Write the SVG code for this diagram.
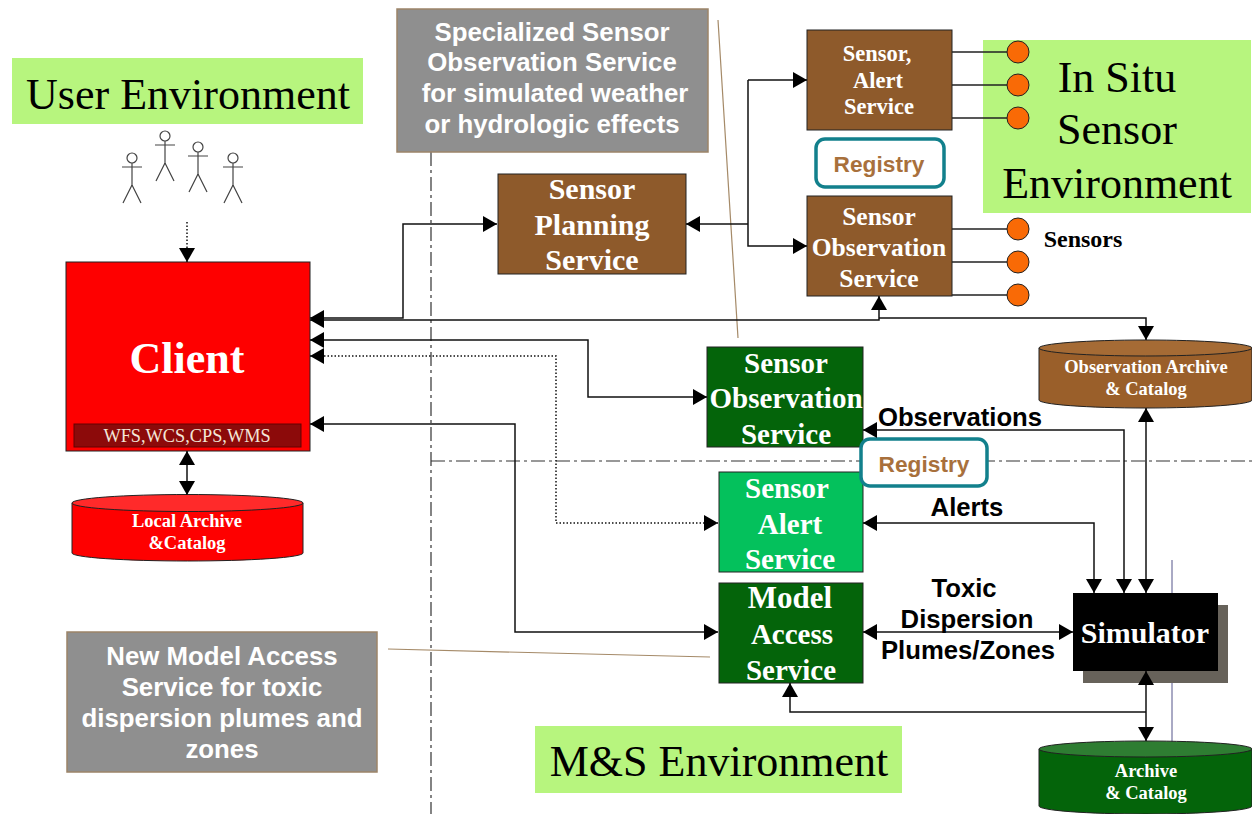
<svg xmlns="http://www.w3.org/2000/svg" width="1252" height="814" viewBox="0 0 1252 814">
<style>
.s{font-family:"Liberation Serif","Times New Roman",serif}
.a{font-family:"Liberation Sans",Arial,sans-serif}
.w{fill:#fff;font-weight:bold;text-anchor:middle}
.k{fill:#000;font-weight:bold;text-anchor:middle}
.env{fill:#000;font-size:44px;text-anchor:middle}
.g{fill:#b7f57e}
.l{fill:none;stroke:#111;stroke-width:1.5}
.box{stroke:#222;stroke-width:1}
.brown{fill:#8e5a2b}
.dg{fill:#04640a}
.reg{fill:#fff;stroke:#12808c;stroke-width:3.5}
.rt{fill:#a8703c;font-weight:bold;font-size:22.7px;text-anchor:middle}
.dot{fill:#f96a06;stroke:#222;stroke-width:1}
.wire{stroke:#222;stroke-width:1.3;fill:none}
.man{fill:none;stroke:#444;stroke-width:1.2}
.note{fill:#8f8f8f;stroke:#9c8468;stroke-width:1.5}
.f22{font-size:22.5px}.f25{font-size:25.5px}.f30{font-size:30px}.f29{font-size:29px}
.f18{font-size:18.5px}.n{font-size:25.8px}
.lab{font-size:25.7px}
</style>
<defs>
<marker id="ah" viewBox="0 0 14 16" refX="14" refY="8" markerWidth="14" markerHeight="16" markerUnits="userSpaceOnUse" orient="auto-start-reverse"><path d="M0 0L14 8L0 16Z" fill="#000"/></marker>
<g id="man"><circle cx="0" cy="0" r="5" class="man"/><path d="M0 5V27M-10 9H10M0 27L-9 45M0 27L9 45" class="man"/></g>
</defs>
<rect width="1252" height="814" fill="#fff"/>
<g id="backdrop">
<path d="M431 152V814" fill="none" stroke="#333" stroke-width="1.2" stroke-dasharray="14 4 3 4"/>
<path d="M431 461H1252" fill="none" stroke="#333" stroke-width="1.2" stroke-dasharray="14 4 3 4"/>
<path d="M718 20L738 338M388 649L710 657" fill="none" stroke="#a58a68" stroke-width="1.2"/>
<path d="M1172 560V742" fill="none" stroke="#55558a" stroke-width="1"/>
</g>
<g id="user-env"><rect class="g" x="12" y="58" width="351" height="66"/><text class="s env" x="188" y="109">User Environment</text></g>
<g id="insitu-env"><rect class="g" x="983" y="40" width="268" height="173"/><text class="s env" x="1117" y="92">In Situ</text><text class="s env" x="1117" y="144">Sensor</text><text class="s env" x="1117" y="198">Environment</text></g>
<g id="ms-env"><rect class="g" x="535" y="726" width="367" height="67"/><text class="s env" x="719" y="776">M&amp;S Environment</text></g>
<g id="users">
<use href="#man" x="132" y="158"/>
<use href="#man" x="165" y="136"/>
<use href="#man" x="198" y="147"/>
<use href="#man" x="233" y="158"/>
</g>
<g id="note-sos"><rect class="note" x="397" y="9" width="311" height="143"/>
<text class="a w n" x="552" y="41">Specialized Sensor</text><text class="a w n" x="552" y="71">Observation Service</text><text class="a w n" x="555" y="102">for simulated weather</text><text class="a w n" x="552" y="133">or hydrologic effects</text></g>
<g id="note-mas"><rect class="note" x="67" y="632" width="310" height="140"/>
<text class="a w n" x="222" y="665">New Model Access</text><text class="a w n" x="222" y="696">Service for toxic</text><text class="a w n" x="222" y="727">dispersion plumes and</text><text class="a w n" x="222" y="758">zones</text></g>
<g id="client"><rect x="66" y="262" width="244" height="189" fill="#fe0000" class="box"/>
<text class="s w" font-size="44" x="187" y="373">Client</text>
<rect x="74" y="424" width="227" height="23" fill="#8c0a0a" stroke="#600" stroke-width="1"/>
<text class="s" x="187" y="442" font-size="18.300" fill="#f3e6d8" text-anchor="middle">WFS,WCS,CPS,WMS</text></g>
<g id="local-archive"><path d="M72 503V553A115.500 8 0 0 0 303 553V503Z" fill="#fe0000" class="box"/><ellipse cx="187.500" cy="503" rx="115.500" ry="8.500" fill="#ff2a2a" class="box"/>
<text class="s w f18" x="187" y="527">Local Archive</text><text class="s w f18" x="187" y="549">&amp;Catalog</text></g>
<g id="sensor-planning"><rect class="box brown" x="498" y="174" width="188" height="100"/><text class="s w f30" x="592" y="199">Sensor</text><text class="s w f30" x="592" y="235">Planning</text><text class="s w f30" x="592" y="270">Service</text></g>
<g id="sensor-alert-brown"><rect class="box brown" x="807" y="30" width="145" height="100"/><text class="s w f22" x="877" y="61">Sensor,</text><text class="s w f22" x="878" y="88">Alert</text><text class="s w f22" x="879" y="114">Service</text></g>
<g id="registry-top"><rect class="reg" x="816" y="139" width="128" height="48" rx="9"/><text class="a rt" x="879" y="172">Registry</text></g>
<g id="sos-brown"><rect class="box brown" x="807" y="196" width="145" height="100"/><text class="s w f25" x="879" y="225">Sensor</text><text class="s w f25" x="879" y="256">Observation</text><text class="s w f25" x="879" y="287">Service</text></g>
<g id="obs-archive"><path d="M1039 348V400A106.500 8 0 0 0 1252 400V348Z" fill="#9a5f2a" class="box"/><ellipse cx="1145.500" cy="348" rx="106.500" ry="8" fill="#a56b35" class="box"/>
<text class="s w f18" x="1146" y="373">Observation Archive</text><text class="s w f18" x="1146" y="395">&amp; Catalog</text></g>
<g id="sos-green"><rect class="box dg" x="707" y="347" width="156" height="100"/><text class="s w f29" x="786" y="373">Sensor</text><text class="s w f29" x="786" y="408">Observation</text><text class="s w f29" x="786" y="444">Service</text></g>
<g id="sensor-alert-green"><rect class="box" fill="#04c15c" x="719" y="472" width="144" height="100"/><text class="s w f29" x="787" y="498">Sensor</text><text class="s w f29" x="790" y="534">Alert</text><text class="s w f29" x="790" y="569">Service</text></g>
<g id="registry-mid"><rect class="reg" x="861" y="439" width="126" height="47" rx="9"/><text class="a rt" x="924" y="472">Registry</text></g>
<g id="model-access"><rect class="box dg" x="719" y="583" width="144" height="100"/><text class="s w" font-size="31" x="790" y="608">Model</text><text class="s w f29" x="792" y="644">Access</text><text class="s w f29" x="791" y="680">Service</text></g>
<g id="simulator"><rect x="1083" y="605" width="145" height="78" fill="#67625a"/><rect x="1073" y="593" width="145" height="78" fill="#000"/><text class="s w f30" x="1145" y="643">Simulator</text></g>
<g id="archive"><path d="M1039 749V806A106.500 8 0 0 0 1252 806V749Z" fill="#04640a" class="box"/><ellipse cx="1145.500" cy="749" rx="106.500" ry="8" fill="#2e7d32" class="box"/>
<text class="s w f18" x="1146" y="777">Archive</text><text class="s w f18" x="1146" y="799">&amp; Catalog</text></g>
<g id="connectors">
<path class="l" d="M187 222V262" stroke-dasharray="1.5 2" marker-end="url(#ah)"/>
<path class="l" d="M187 451V495" marker-start="url(#ah)" marker-end="url(#ah)"/>
<path class="l" d="M310 318H403V224H497" marker-start="url(#ah)" marker-end="url(#ah)"/>
<path class="l" d="M310 320H879V296" marker-start="url(#ah)" marker-end="url(#ah)"/>
<path class="l" d="M879 318H1146V340" marker-end="url(#ah)"/>
<path class="l" d="M310 340H588V397H707" marker-start="url(#ah)" marker-end="url(#ah)"/>
<path class="l" d="M310 356H556V523H718" stroke-dasharray="1.5 2" marker-start="url(#ah)" marker-end="url(#ah)"/>
<path class="l" d="M310 424H515V632H718" marker-start="url(#ah)" marker-end="url(#ah)"/>
<path class="l" d="M686 224H748" marker-start="url(#ah)"/>
<path class="l" d="M748 80V246H807" marker-end="url(#ah)"/>
<path class="l" d="M748 80H807" marker-end="url(#ah)"/>
<path class="l" d="M863 430H1124V593" marker-start="url(#ah)" marker-end="url(#ah)"/>
<path class="l" d="M863 523H1094V593" marker-start="url(#ah)" marker-end="url(#ah)"/>
<path class="l" d="M1146 408V593" marker-start="url(#ah)" marker-end="url(#ah)"/>
<path class="l" d="M863 632H1073" marker-start="url(#ah)" marker-end="url(#ah)"/>
<path class="l" d="M1146 671V741" marker-start="url(#ah)" marker-end="url(#ah)"/>
<path class="l" d="M790 683V712H1146" marker-start="url(#ah)"/>
<path class="wire" d="M952 52H1007M952 85H1007M952 118H1007M952 229H1007M952 262H1007M952 295H1007"/>
</g>
<g id="sensors"><circle class="dot" cx="1018" cy="52" r="11"/><circle class="dot" cx="1018" cy="85" r="11"/><circle class="dot" cx="1018" cy="118" r="11"/><circle class="dot" cx="1018" cy="229" r="11"/><circle class="dot" cx="1018" cy="262" r="11"/><circle class="dot" cx="1018" cy="295" r="11"/><text class="s k" font-size="24" x="1083" y="247">Sensors</text></g>
<g id="labels">
<text class="a k lab" x="960" y="426">Observations</text>
<text class="a k lab" x="967" y="516">Alerts</text>
<text class="a k lab" x="964" y="597">Toxic</text>
<text class="a k lab" x="967" y="628">Dispersion</text>
<text class="a k lab" x="968" y="659">Plumes/Zones</text>
</g>
</svg>
